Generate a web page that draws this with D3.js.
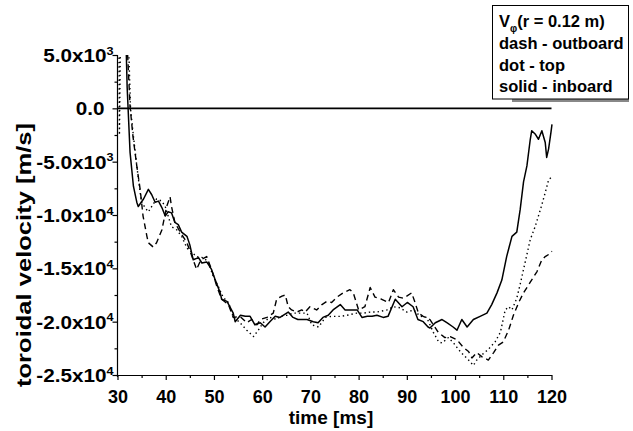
<!DOCTYPE html>
<html><head><meta charset="utf-8">
<script src="https://cdn.jsdelivr.net/npm/d3@7/dist/d3.min.js"></script>
<style>body{margin:0;background:#fff}svg{display:block}</style>
</head><body>
<script>
// ---- data (time [ms], toroidal velocity [m/s]) ----
const solidT = [31.8,32.0,32.6,33.3,34.0,34.3,35.4,36.4,37.1,37.8,38.5,39.2,39.9,40.5,41.2,41.9,42.6,43.3,44.4,45.0,45.7,46.8,47.5,48.5,49.5,50.2,51.3,51.6,52.7,54.0,54.4,55.5,56.5,57.5,58.5,59.6,60.6,61.6,62.7,63.7,65.4,66.4,67.4,69.3,70.6,71.6,72.6,73.7,74.7,76.2,77.2,78.6,79.7,80.7,81.8,82.8,83.8,85.1,86.1,87.6,89.0,90.1,91.3,92.3,93.4,94.4,94.8,95.9,97.3,98.3,99.6,100.4,101.4,102.5,103.8,105.2,106.6,107.6,108.7,109.7,110.7,111.8,112.8,113.5,114.2,114.9,115.6,115.9,116.6,117.3,118.0,118.7,119.0,119.4,119.9,120.1];
const solidV = [5600,2000,-4100,-7300,-8800,-9200,-8500,-7600,-8100,-8800,-8700,-9300,-10100,-9700,-9800,-10700,-10900,-11600,-12000,-12800,-14200,-14000,-14500,-14400,-15100,-16000,-17300,-17900,-18100,-19200,-20000,-19400,-19500,-19500,-20300,-20100,-20500,-20000,-19500,-19600,-19100,-19600,-19800,-19800,-20000,-20100,-19600,-19400,-18900,-18400,-18900,-18900,-18900,-19600,-19500,-19500,-19400,-19600,-19500,-17900,-18600,-18200,-18600,-19800,-20000,-20500,-20600,-20100,-19800,-20100,-20500,-20800,-19800,-20500,-19800,-19500,-19200,-18400,-17300,-16100,-13900,-12000,-11600,-9500,-6900,-5400,-2900,-2100,-2400,-2900,-2100,-3200,-4600,-3800,-2200,-1500];

const dashT = [32.0,32.6,33.2,34.0,34.7,35.3,36.1,36.4,37.4,38.1,39.2,40.2,40.9,41.2,41.9,43.0,44.4,45.7,46.4,47.3,48.5,49.5,50.6,51.6,53.0,54.0,55.4,56.8,57.8,58.9,59.6,61.0,62.3,63.0,64.1,64.8,65.4,66.1,67.2,68.2,68.9,69.9,71.3,72.4,73.4,74.4,75.5,76.8,78.2,78.9,80.0,81.3,82.4,83.4,84.8,86.2,87.2,88.3,89.3,91.0,91.7,92.4,93.4,94.8,96.5,97.9,99.0,100.4,101.7,102.8,103.5,104.5,105.6,106.9,108.0,109.0,110.0,111.1,112.1,113.2,114.2,115.6,117.0,118.0,118.7,119.4,120.1];
const dashV = [6000,200,-2600,-5400,-7600,-10100,-12000,-12600,-13000,-12600,-11400,-9200,-8300,-9200,-10700,-11600,-12600,-14200,-15100,-14200,-13900,-15100,-16700,-17900,-18400,-19600,-19500,-20100,-19800,-20300,-19800,-19600,-19200,-17900,-17600,-17500,-18600,-18900,-19100,-18900,-19100,-18600,-18900,-18400,-18100,-18200,-17700,-17300,-17000,-17300,-18900,-18600,-16800,-17700,-17900,-18200,-17000,-17700,-17800,-17300,-18200,-19200,-19500,-19800,-21000,-21500,-21400,-21700,-22400,-22800,-23400,-22900,-23300,-23600,-22900,-22200,-21900,-20800,-19400,-18200,-17300,-16300,-15300,-14200,-13900,-13700,-13400];

const dotT = [30.3,30.4,30.6,32.3,32.7,33.3,34.0,34.7,35.0,35.7,36.4,37.1,38.1,39.2,39.9,40.5,41.2,42.3,43.3,44.4,45.4,46.4,47.8,48.8,49.9,50.9,51.9,53.0,54.0,55.4,56.8,58.2,59.2,60.2,61.6,63.0,63.7,65.1,66.5,67.5,69.3,70.3,71.7,73.1,74.4,76.2,77.6,79.6,81.0,82.4,83.8,85.9,87.2,88.6,90.0,91.4,92.8,94.1,95.5,96.6,97.3,98.6,99.7,100.7,101.7,102.8,103.8,104.5,105.6,106.9,108.3,109.4,110.4,111.1,111.8,112.8,113.5,114.2,115.6,116.6,117.7,118.7,119.4,120.1];
const dotV = [6000,-2500,6000,6000,0,-2600,-5400,-7900,-8800,-9300,-9700,-9200,-8500,-8700,-9200,-10100,-11100,-11400,-12000,-13100,-13500,-13900,-14000,-14400,-15800,-16700,-17700,-18200,-19500,-20100,-20800,-21400,-20800,-20100,-19600,-19800,-19500,-19400,-19200,-19200,-19200,-20300,-20500,-19600,-19500,-19500,-19400,-19200,-19200,-19100,-19100,-18900,-18600,-18700,-19100,-18900,-19500,-19600,-21000,-21900,-22000,-21500,-22000,-22600,-23100,-23600,-24100,-23600,-23100,-22600,-21900,-21000,-18900,-18600,-18900,-17800,-16500,-15100,-12300,-11100,-9500,-7900,-6700,-6400];

const xTicks = [30,40,50,60,70,80,90,100,110,120];
const xMinor = [35,45,55,65,75,85,95,105,115];
const yTicks = [5000,0,-5000,-10000,-15000,-20000,-25000];
const yTickMant = ["5.0x10","0.0","-5.0x10","-1.0x10","-1.5x10","-2.0x10","-2.5x10"];
const yTickExp = ["3","","3","4","4","4","4"];
const yMinor = [2500,-2500,-7500,-12500,-17500,-22500];
const legendLines = ["dash - outboard","dot - top","solid - inboard"];

// ---- chart ----
const W = 633, H = 431;
const svg = d3.select("body").append("svg").attr("width", W).attr("height", H)
  .style("font-family", "'Liberation Sans', Arial, sans-serif").style("font-weight", "bold");

const x = d3.scaleLinear().domain([30, 120]).range([117.5, 551.5]);
const y = d3.scaleLinear().domain([-25000, 5000]).range([375, 55]);

svg.append("defs").append("clipPath").attr("id", "clip")
  .append("rect").attr("x", x(30)).attr("y", y(5000)).attr("width", x(120) - x(30) + 2).attr("height", y(-25000) - y(5000));

// zero line
svg.append("line").attr("x1", x(30)).attr("x2", x(120)).attr("y1", y(0)).attr("y2", y(0))
  .attr("stroke", "#000").attr("stroke-width", 1.6);

const line = d3.line().x(d => x(d[0])).y(d => y(d[1]));
const g = svg.append("g").attr("clip-path", "url(#clip)");
function series(T, V, dash, w) {
  g.append("path").datum(T.map((t, i) => [t, V[i]])).attr("d", line)
    .attr("fill", "none").attr("stroke", "#000").attr("stroke-width", w)
    .attr("stroke-dasharray", dash).attr("stroke-linejoin", "round");
}
series(dotT, dotV, "1.4,3", 1.4);
series(dashT, dashV, "6,4", 1.4);
series(solidT, solidV, null, 1.5);

// x axis
const xAxisG = svg.append("g").attr("transform", `translate(0,${y(-25000)})`);
xAxisG.call(d3.axisBottom(x).tickValues(xTicks).tickSize(5).tickSizeOuter(0).tickFormat(""));
xAxisG.append("g").call(d3.axisBottom(x).tickValues(xMinor).tickSize(3).tickSizeOuter(0).tickFormat(""))
  .select(".domain").remove();
xAxisG.selectAll("line, path").attr("stroke", "#000").attr("stroke-width", 1.2);
xAxisG.selectAll(".tick").filter(d => xTicks.includes(d)).append("text")
  .attr("y", 28).attr("fill", "#000").attr("text-anchor", "middle")
  .style("font-size", "18px").style("font-weight", "bold").text(d => d);

// y axis
const yAxisG = svg.append("g").attr("transform", `translate(${x(30)},0)`);
yAxisG.call(d3.axisLeft(y).tickValues(yTicks).tickSize(5).tickSizeOuter(0).tickFormat(""));
yAxisG.append("g").call(d3.axisLeft(y).tickValues(yMinor).tickSize(3).tickSizeOuter(0).tickFormat(""))
  .select(".domain").remove();
yAxisG.selectAll("line, path").attr("stroke", "#000").attr("stroke-width", 1.2);
yAxisG.select(".domain").attr("d", `M0,${y(5000)}V${y(-25000) + 2}`);
yAxisG.selectAll(".tick").filter(d => yTicks.includes(d)).each(function(d) {
  const i = yTicks.indexOf(d);
  const dx = yTickExp[i] ? -4 : -13;
  const t = d3.select(this).append("text").attr("fill", "#000").attr("text-anchor", "end")
    .attr("transform", `translate(${dx},6.5) scale(1.15,1)`)
    .style("font-size", "18px").style("font-weight", "bold");
  t.append("tspan").text(yTickMant[i]);
  if (yTickExp[i]) {
    t.append("tspan").attr("dy", -7.5).style("font-size", "11px").text(yTickExp[i]);
  }
});

// axis titles
svg.append("text").attr("x", 331).attr("y", 424).attr("text-anchor", "middle")
  .style("font-size", "19px").attr("fill", "#000").text("time [ms]");
svg.append("text").attr("transform", "translate(31,255) rotate(-90)").attr("text-anchor", "middle")
  .attr("textLength", 264).attr("lengthAdjust", "spacingAndGlyphs")
  .style("font-size", "20px").attr("fill", "#000").text("toroidal velocity [m/s]");

// legend box
svg.append("rect").attr("x", 512).attr("y", 99).attr("width", 117).attr("height", 3).attr("fill", "#888");
svg.append("rect").attr("x", 492.5).attr("y", 5.5).attr("width", 136).attr("height", 93.5)
  .attr("fill", "#fff").attr("stroke", "#000").attr("stroke-width", 1);
const lt = svg.append("text").attr("x", 499).attr("y", 27).style("font-size", "16.5px").attr("fill", "#000");
lt.append("tspan").text("V");
lt.append("tspan").attr("dy", 5).style("font-size", "10px").text("φ");
lt.append("tspan").attr("dy", -5).text("(r = 0.12 m)");
legendLines.forEach((s, i) => {
  svg.append("text").attr("x", 499).attr("y", 49 + i * 21.5).style("font-size", "16.5px").attr("fill", "#000").text(s);
});
</script>
</body></html>
